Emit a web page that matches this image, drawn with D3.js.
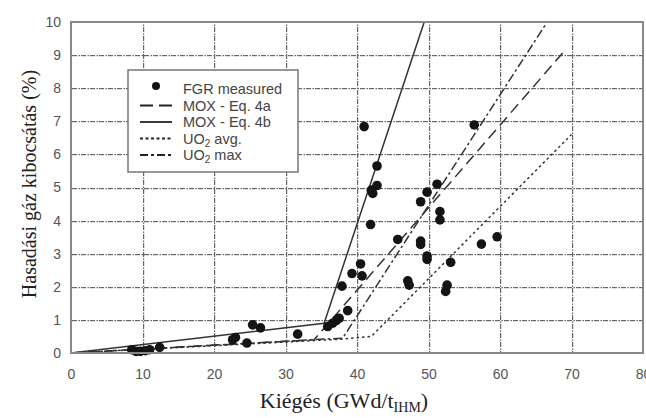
<!DOCTYPE html>
<html>
<head>
<meta charset="utf-8">
<script src="https://cdn.jsdelivr.net/npm/d3@7"></script>
<style>
  body { margin: 0; background: #fff; }
  svg { display: block; }
</style>
</head>
<body>
<div id="chart"></div>
<script>
// measured FGR points [burnup, release %]
var fgrMeasured = [
  [8.5, 0.1], [9.1, 0.05], [9.7, 0.05], [10.4, 0.07], [11.0, 0.1], [12.4, 0.17],
  [22.6, 0.4], [23.0, 0.47], [24.6, 0.3], [25.4, 0.85], [26.5, 0.76], [31.7, 0.57],
  [35.9, 0.8], [36.6, 0.9], [37.1, 0.98], [37.5, 1.05], [38.7, 1.28], [37.9, 2.02],
  [39.3, 2.4], [40.5, 2.69], [40.7, 2.33],
  [41.0, 6.84], [42.8, 5.65], [42.8, 5.06], [42.0, 4.92], [42.2, 4.82], [41.9, 3.88],
  [45.7, 3.43], [47.1, 2.18], [47.3, 2.05],
  [48.9, 4.57], [49.8, 4.86], [51.2, 5.1], [51.6, 4.27], [51.6, 4.02],
  [48.9, 3.38], [48.9, 3.28], [49.8, 2.93], [49.8, 2.83],
  [53.1, 2.74], [52.6, 2.05], [52.4, 1.86],
  [57.4, 3.29], [59.6, 3.51], [56.4, 6.89]
];
// model curves (ends at the top of the frame)
var moxEq4a = [[0, 0], [34, 0.4], [69.1, 9.15]];
var moxEq4b = [[0, 0], [35.4, 0.9], [49.4, 10]];
var uo2Avg = [[0, 0], [38, 0.42], [42, 0.5], [70, 6.6]];
var uo2Max = [[0, 0], [38, 0.45], [66.6, 10]];

var xTicks = [0, 10, 20, 30, 40, 50, 60, 70, 80];
var yTicks = [0, 1, 2, 3, 4, 5, 6, 7, 8, 9, 10];

var W = 646, H = 418;
var margin = { left: 71, right: 3, top: 22, bottom: 65 };

var svg = d3.select("#chart").append("svg")
  .attr("width", W).attr("height", H);

var x = d3.scaleLinear().domain([0, 80]).range([margin.left, W - margin.right]);
var y = d3.scaleLinear().domain([0, 10]).range([H - margin.bottom, margin.top]);

// dash-dot patterns for the grid, used as fills of 1px rects
var defs = svg.append("defs");
var pv = defs.append("pattern").attr("id", "gridV").attr("patternUnits", "userSpaceOnUse")
  .attr("width", 2).attr("height", 9);
pv.append("rect").attr("x", 0).attr("y", 0).attr("width", 2).attr("height", 5).attr("fill", "#666");
pv.append("rect").attr("x", 0).attr("y", 6.5).attr("width", 2).attr("height", 1.5).attr("fill", "#666");
var ph = defs.append("pattern").attr("id", "gridH").attr("patternUnits", "userSpaceOnUse")
  .attr("width", 9).attr("height", 2);
ph.append("rect").attr("x", 0).attr("y", 0).attr("width", 5).attr("height", 2).attr("fill", "#666");
ph.append("rect").attr("x", 6.5).attr("y", 0).attr("width", 1.5).attr("height", 2).attr("fill", "#666");

var gridG = svg.append("g");
gridG.selectAll("rect.gv").data(xTicks.slice(1, -1)).enter().append("rect")
  .attr("class", "gv")
  .attr("x", d => Math.round(x(d))).attr("y", y(10))
  .attr("width", 1.2).attr("height", y(0) - y(10))
  .attr("fill", "url(#gridV)");
gridG.selectAll("rect.gh").data(yTicks.slice(1, -1)).enter().append("rect")
  .attr("class", "gh")
  .attr("x", x(0)).attr("y", d => Math.round(y(d)))
  .attr("width", x(80) - x(0)).attr("height", 1.2)
  .attr("fill", "url(#gridH)");

// axes (labels only)
var fontTick = "Liberation Sans, Arial, sans-serif";
var xAxis = svg.append("g")
  .attr("transform", "translate(0," + y(0) + ")")
  .call(d3.axisBottom(x).tickValues(xTicks).tickSize(0).tickPadding(16));
xAxis.select(".domain").remove();
xAxis.selectAll("text").style("font-family", fontTick).style("font-size", "14px").attr("fill", "#555");

var yAxis = svg.append("g")
  .attr("transform", "translate(" + x(0) + ",0)")
  .call(d3.axisLeft(y).tickValues(yTicks).tickSize(0).tickPadding(10));
yAxis.select(".domain").remove();
yAxis.selectAll("text").style("font-family", fontTick).style("font-size", "14px").attr("fill", "#555");

// model lines
var lineGen = d3.line().x(d => x(d[0])).y(d => y(d[1]));
var curves = [
  { data: moxEq4a, dash: "11,6" },
  { data: moxEq4b, dash: null },
  { data: uo2Avg, dash: "2.5,3" },
  { data: uo2Max, dash: "9,3,2.5,3" }
];
curves.forEach(function (c) {
  svg.append("path")
    .attr("d", lineGen(c.data))
    .attr("fill", "none")
    .attr("stroke", "#333")
    .attr("stroke-width", 1.5)
    .attr("stroke-dasharray", c.dash);
});

// measured points
svg.append("g").selectAll("circle").data(fgrMeasured).enter().append("circle")
  .attr("cx", d => x(d[0])).attr("cy", d => y(d[1]))
  .attr("r", 4.8).attr("fill", "#141414");

// frame
svg.append("rect")
  .attr("x", x(0)).attr("y", y(10))
  .attr("width", x(80) - x(0)).attr("height", y(0) - y(10))
  .attr("fill", "none").attr("stroke", "#888").attr("stroke-width", 2);

// legend
var lg = svg.append("g").attr("transform", "translate(128,70)");
lg.append("rect").attr("width", 170).attr("height", 102)
  .attr("fill", "#fff").attr("stroke", "#777").attr("stroke-width", 1.5);
var legendItems = [
  { label: "FGR measured", type: "dot" },
  { label: "MOX - Eq. 4a", dash: "13,6" },
  { label: "MOX - Eq. 4b", dash: null },
  { label: "UO|2| avg.", dash: "3,2.5" },
  { label: "UO|2| max", dash: "8,3,3,3" }
];
legendItems.forEach(function (it, i) {
  var yy = 19 + i * 16.5;
  if (it.type === "dot") {
    lg.append("circle").attr("cx", 28).attr("cy", yy - 3).attr("r", 4).attr("fill", "#141414");
  } else {
    lg.append("line").attr("x1", 12).attr("x2", 44).attr("y1", yy).attr("y2", yy)
      .attr("stroke", "#222").attr("stroke-width", 1.8).attr("stroke-dasharray", it.dash);
  }
  var parts = it.label.split("|");
  var t = lg.append("text").attr("x", 55).attr("y", yy + 5)
    .style("font-family", fontTick).style("font-size", "14.5px").attr("fill", "#444");
  t.append("tspan").text(parts[0]);
  if (parts.length > 1) {
    t.append("tspan").attr("dy", 3).style("font-size", "10px").text(parts[1]);
    t.append("tspan").attr("dy", -3).text(parts[2]);
  }
});

// axis titles
var fontTitle = "Liberation Serif, Times New Roman, serif";
var xt = svg.append("text").attr("x", 344).attr("y", 408).attr("text-anchor", "middle")
  .style("font-family", fontTitle).style("font-size", "22px").attr("fill", "#222");
xt.append("tspan").text("Kiégés (GWd/t");
xt.append("tspan").attr("dy", 4).style("font-size", "14px").text("IHM");
xt.append("tspan").attr("dy", -4).text(")");

svg.append("text")
  .attr("transform", "translate(36,184) rotate(-90)")
  .attr("text-anchor", "middle")
  .style("font-family", fontTitle).style("font-size", "20px").attr("fill", "#222")
  .text("Hasadási gáz kibocsátás (%)");
</script>
</body>
</html>
